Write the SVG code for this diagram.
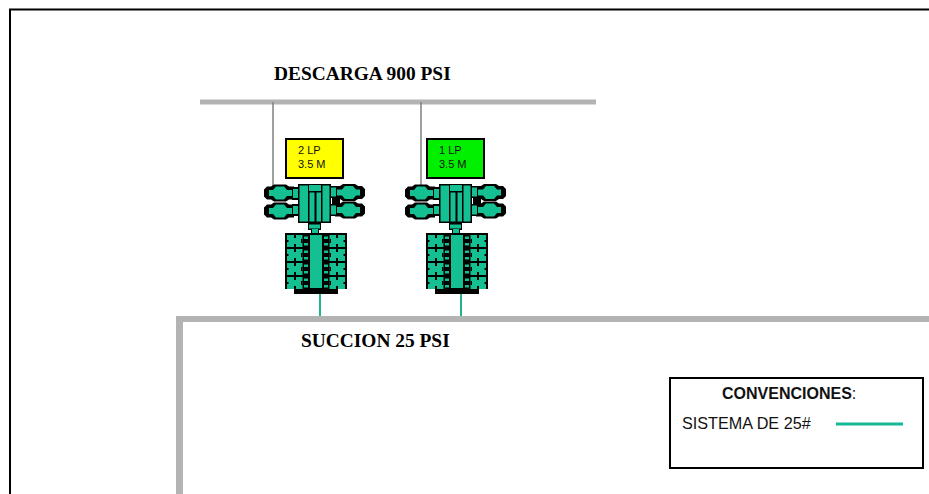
<svg xmlns="http://www.w3.org/2000/svg" width="929" height="494" viewBox="0 0 929 494">
<style>
.t{font-family:"Liberation Serif",serif;font-weight:bold;font-size:19.400px;fill:#000}
.s{font-family:"Liberation Sans",Arial,sans-serif;fill:#111}
.lab{font-size:11px}
.g{fill:#14bf92}
.k{fill:#000}
.pipe{fill:#b3b3b3}
.drop{stroke:#808080;stroke-width:1.5;fill:none}
.suc{stroke:#22b28f;stroke-width:2;fill:none}
.box{stroke:#000;stroke-width:2}
</style>
<defs>
<g id="valve">
<path class="k" d="M0 5L3 2H7L10 0H22L25 2H30V15H25L22 17H10L7 15H3L0 12Z"/>
<path class="g" d="M5 5.500H9L12 2H20L23 5.500H28V11.500H23L20 15H12L9 11.500H5Z"/>
</g>
<g id="cell">
<rect class="g" x="0" y="0" width="15.500" height="12"/>
<path class="k" d="M7 0H9V3H7ZM7 9H9V12H7ZM14 4H15.500V8H14ZM0 5H1.500V7H0Z"/>
<rect class="g" x="17" y="1.500" width="4" height="2.500"/>
<rect class="g" x="17" y="8" width="4" height="2.500"/>
</g>
<g id="pump">
<use href="#valve" x="264" y="184.500"/>
<use href="#valve" x="264" y="202.500"/>
<use href="#valve" transform="translate(365 184) scale(-1 1)"/>
<use href="#valve" transform="translate(365 201.500) scale(-1 1)"/>
<rect class="k" x="332" y="197" width="8" height="8"/>
<rect class="k" x="292" y="187" width="8" height="13"/>
<rect class="k" x="292" y="204" width="8" height="12"/>
<rect class="g" x="293" y="189" width="6" height="9"/>
<rect class="g" x="293" y="206" width="6" height="8"/>
<rect class="k" x="329" y="186" width="8" height="12"/>
<rect class="k" x="329" y="204" width="8" height="12"/>
<rect class="g" x="330" y="187.500" width="6" height="9"/>
<rect class="g" x="330" y="205.500" width="6" height="9"/>
<rect class="k" x="298" y="184" width="33" height="39"/>
<rect class="g" x="299.500" y="185.500" width="30" height="36"/>
<rect class="k" x="308" y="184" width="1.500" height="38"/>
<rect class="k" x="321" y="184" width="1.500" height="38"/>
<rect class="k" x="314.500" y="191" width="2" height="31"/>
<rect class="g" x="309" y="185" width="12" height="6"/>
<rect class="k" x="309" y="191" width="12" height="1.500"/>
<rect class="k" x="308" y="223" width="13" height="7"/>
<rect class="g" x="309" y="224.500" width="11" height="4"/>
<rect class="k" x="311" y="229" width="8" height="5"/>
<rect class="g" x="312" y="229" width="6" height="5"/>
<rect class="k" x="285" y="233" width="62" height="56"/>
<rect class="k" x="294" y="288" width="44" height="6"/>
<use href="#cell" x="287" y="235"/>
<use href="#cell" x="287" y="249"/>
<use href="#cell" x="287" y="263"/>
<use href="#cell" x="287" y="277"/>
<use href="#cell" transform="translate(345 235) scale(-1 1)"/>
<use href="#cell" transform="translate(345 249) scale(-1 1)"/>
<use href="#cell" transform="translate(345 263) scale(-1 1)"/>
<use href="#cell" transform="translate(345 277) scale(-1 1)"/>
<rect class="g" x="310" y="235" width="12" height="53"/>
</g>
</defs>
<rect x="0" y="0" width="929" height="494" fill="#fff"/>
<path d="M10 494V9.500H929" fill="none" stroke="#000" stroke-width="2"/>
<g id="connectors">
<rect class="pipe" x="200" y="99.500" width="396" height="5"/>
<path class="pipe" d="M176 494V316H929V322H183V494Z"/>
<line class="drop" x1="273" y1="102" x2="273" y2="186"/>
<line class="drop" x1="421" y1="102" x2="421" y2="186"/>
<line class="suc" x1="320" y1="288" x2="320" y2="316"/>
<line class="suc" x1="461" y1="288" x2="461" y2="316"/>
</g>
<g id="pump-2lp">
<use href="#pump"/>
<rect class="box" x="286" y="139" width="57" height="39" fill="#ffff00"/>
<text class="s lab" x="298" y="154">2 LP</text>
<text class="s lab" x="298" y="168">3.5 M</text>
</g>
<g id="pump-1lp">
<use href="#pump" x="141"/>
<rect class="box" x="427" y="139" width="57" height="39" fill="#00f000"/>
<text class="s lab" x="439" y="154">1 LP</text>
<text class="s lab" x="439" y="168">3.5 M</text>
</g>
<g id="label-descarga"><text class="t" x="274" y="80">DESCARGA 900 PSI</text></g>
<g id="label-succion"><text class="t" x="301" y="347">SUCCION 25 PSI</text></g>
<g id="legend">
<rect x="670" y="378" width="253" height="90" fill="#fff" stroke="#000" stroke-width="2"/>
<text class="s" x="722" y="399" font-size="16"><tspan font-weight="bold">CONVENCIONES</tspan>:</text>
<text class="s" x="682" y="429" font-size="16.200">SISTEMA DE 25#</text>
<line x1="836" y1="424" x2="903" y2="424" stroke="#16b996" stroke-width="3"/>
</g>
</svg>
